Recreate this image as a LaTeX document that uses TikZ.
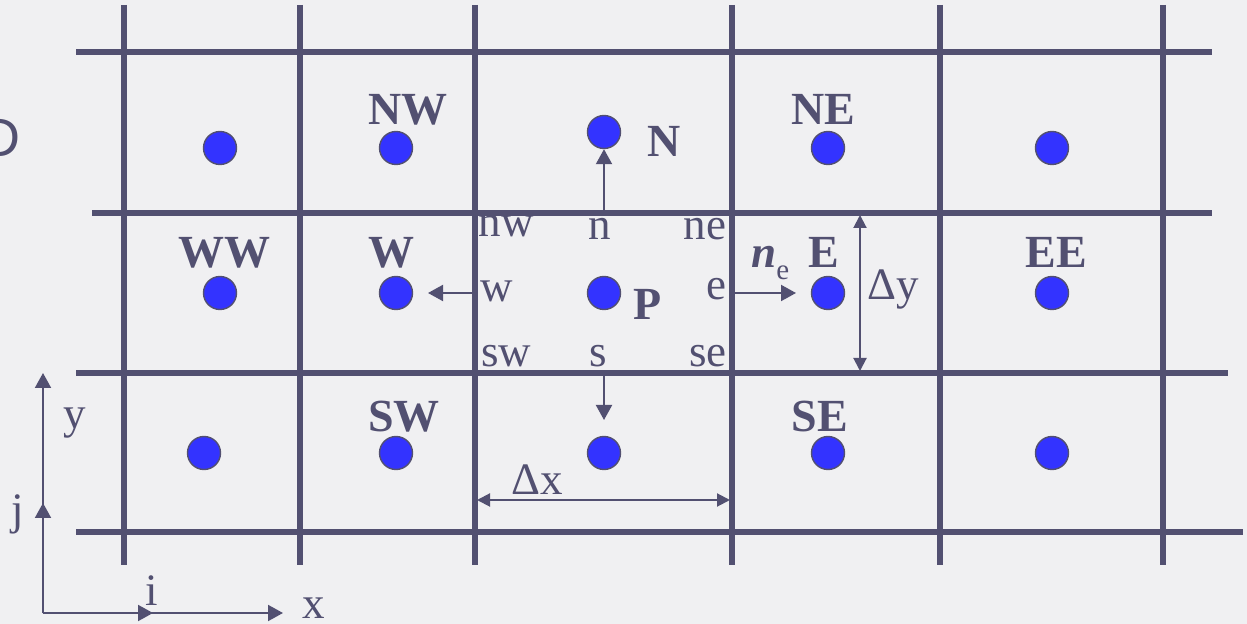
\documentclass[tikz,border=0pt]{standalone}
\usepackage{fontspec}
\setmainfont{Liberation Serif}
\newfontfamily\sansD{Liberation Sans}
\usetikzlibrary{arrows.meta}
\definecolor{slate}{RGB}{82,80,113}
\definecolor{dotblue}{RGB}{51,51,255}
\definecolor{bgc}{RGB}{240,240,242}
\begin{document}
\begin{tikzpicture}[x=0.5pt,y=-0.5pt,
  gridline/.style={draw=slate,line width=3pt},
  dot/.style={circle,fill=dotblue,draw=slate,line width=0.7pt,minimum size=16.5pt,inner sep=0pt},
  big/.style={anchor=base,inner sep=0pt,text=slate,font=\fontsize{23}{27}\selectfont\bfseries},
  small/.style={anchor=base,inner sep=0pt,text=slate,font=\fontsize{22.5}{26}\selectfont},
  arr/.style={draw=slate,line width=1pt,-{Triangle[length=7.5pt,width=8pt]}},
  dimarr/.style={draw=slate,line width=1pt,{Triangle[length=6.5pt,width=6.5pt]}-{Triangle[length=6.5pt,width=6.5pt]}},
  axisline/.style={draw=slate,line width=1pt}]
\fill[bgc] (0,0) rectangle (1247,624);
\clip (0,0) rectangle (1247,624);
\useasboundingbox (0,0) rectangle (1247,624);

% partial letter at left edge
\node[anchor=base east,inner sep=0pt,text=slate,font=\sansD\fontsize{27}{30}\selectfont] (cutD) at (21,157) {D};

% grid
\foreach \gx in {124,300,475,732,940,1163}
  \draw[gridline] (\gx,5) -- (\gx,565);
\draw[gridline] (76,52) -- (1212,52);
\draw[gridline] (92,213) -- (1212,213);
\draw[gridline] (76,373) -- (1228,373);
\draw[gridline] (76,532) -- (1243,532);

% dots
\node[dot] (d11) at (220,148) {};
\node[dot] (dNW) at (396,148) {};
\node[dot] (dN)  at (604,132) {};
\node[dot] (dNE) at (828,148) {};
\node[dot] (d15) at (1052,148) {};
\node[dot] (dWW) at (220,293) {};
\node[dot] (dW)  at (396,293) {};
\node[dot] (dP)  at (604,293) {};
\node[dot] (dE)  at (828,293) {};
\node[dot] (dEE) at (1052,293) {};
\node[dot] (d31) at (204,453) {};
\node[dot] (dSW) at (396,453) {};
\node[dot] (dS)  at (604,453) {};
\node[dot] (dSE) at (828,453) {};
\node[dot] (d35) at (1052,453) {};

% bold labels
\node[big] (lNW) at (408,125) {NW};
\node[big] (lNE) at (823,125) {NE};
\node[big] (lN)  at (664,157) {N};
\node[big] (lWW) at (224,268) {WW};
\node[big] (lW)  at (391,268) {W};
\node[big] (lE)  at (824,268) {E};
\node[big] (lEE) at (1056,268) {EE};
\node[big] (lP)  at (648,320) {P};
\node[big] (lSW) at (404,432) {SW};
\node[big] (lSE) at (820,432) {SE};

% face labels
\node[small] (fnw) at (506,237) {nw};
\node[small] (fn)  at (600,240) {n};
\node[small] (fne) at (705,240) {ne};
\node[small] (fw)  at (497,302) {w};
\node[small] (fe)  at (716,300) {e};
\node[small] (fsw) at (506,367) {sw};
\node[small] (fs)  at (598,367) {s};
\node[small] (fse) at (708,367) {se};
\node[small,anchor=base west] (ne) at (751,268) {{\bfseries\itshape n}\raisebox{-6pt}{\fontsize{14.5}{16}\selectfont e}};
\node[small] (ldy) at (893,300) {Δy};
\node[small] (ldx) at (537,495) {Δx};

% face arrows
\coordinate (nface) at (604,210);
\coordinate (sface) at (604,376);
\coordinate (stip)  at (604,420);
\coordinate (wface) at (475,293);
\coordinate (wtip)  at (428,293);
\coordinate (eface) at (735,293);
\coordinate (etip)  at (796,293);
\draw[arr] (nface) -- (dN.south);
\draw[arr] (sface) -- (stip);
\draw[arr] (wface) -- (wtip);
\draw[arr] (eface) -- (etip);

% dimension arrows
\coordinate (dyt) at (860,215);
\coordinate (dyb) at (860,371);
\coordinate (dxl) at (477,500);
\coordinate (dxr) at (730,500);
\draw[dimarr] (dyt) -- (dyb);
\draw[dimarr] (dxl) -- (dxr);

% axes
\coordinate (O) at (43,613);
\coordinate (ytip) at (43,373);
\coordinate (jtip) at (43,503);
\coordinate (xtip) at (283,613);
\coordinate (itip) at (153,613);
\draw[arr] (O) -- (ytip);
\draw[arr] (O) -- (jtip);
\draw[arr] (O) -- (xtip);
\draw[arr] (O) -- (itip);
\node[small] (ly) at (75,429) {y};
\node[small] (lj) at (18,525) {j};
\node[small] (li) at (152,605) {i};
\node[small] (lx) at (314,618) {x};
\end{tikzpicture}
\end{document}
